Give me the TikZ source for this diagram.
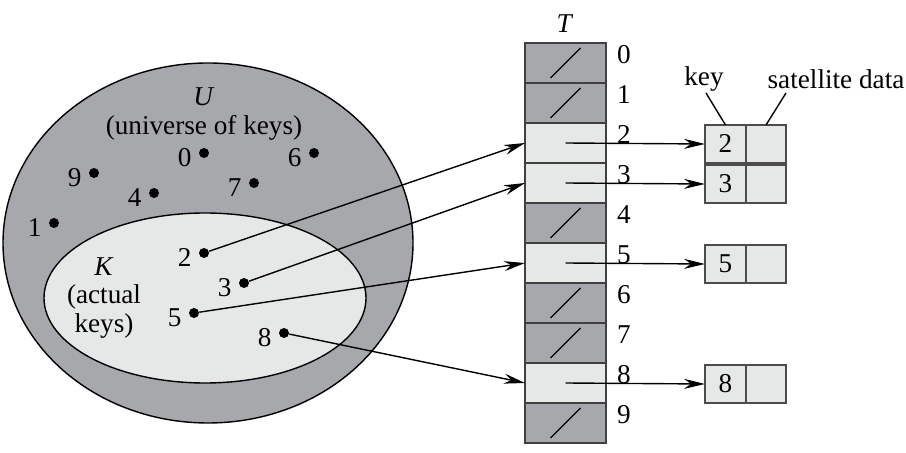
\documentclass[tikz,border=0pt]{standalone}
\usepackage{fontspec}
\setmainfont{Liberation Serif}
\usetikzlibrary{arrows.meta,positioning}
\definecolor{slotdark}{RGB}{167,168,172}
\definecolor{slotlight}{RGB}{230,231,231}

\begin{document}
\begin{tikzpicture}[x=0.5pt, y=-0.5pt,
  every node/.style={font=\fontsize{13.6}{14.2}\selectfont},
  key dot/.style={circle, fill=black, inner sep=0pt, minimum size=5pt},
  slot/.style={draw=black!75, line width=0.7pt, minimum width=40.5pt, minimum height=20pt, inner sep=0pt, outer sep=0pt},
  empty slot/.style={slot, fill=slotdark},
  full slot/.style={slot, fill=slotlight},
  elem/.style={draw=black!70, fill=slotlight, line width=0.7pt, minimum height=19pt, inner sep=0pt, outer sep=0pt},
  ptr/.style={-{Stealth[length=10.5pt, width=5pt, inset=3.5pt]}, line width=0.7pt}]
\useasboundingbox (0,0) rectangle (906,453);
% universe and actual keys
\draw[fill=slotdark, line width=0.7pt] (208,243) ellipse [x radius=102.5pt, y radius=90pt];
\draw[fill=slotlight, line width=0.7pt] (205,298) ellipse [x radius=80.5pt, y radius=42.5pt];
\node[align=center] (ulabel) at (204,114) {\textit{U}\\(universe of keys)};
\node[align=center] (klabel) at (104,298) {\textit{K}\\(actual\\keys)};
% keys
\node[key dot, label={[yshift=-2.5pt]left:0}] (d0) at (204,153) {};
\node[key dot, label={[yshift=-2.5pt]left:6}] (d6) at (314,153) {};
\node[key dot, label={[yshift=-2.5pt]left:9}] (d9) at (94,173) {};
\node[key dot, label={[yshift=-2.5pt]left:7}] (d7) at (254,183) {};
\node[key dot, label={[yshift=-2.5pt]left:4}] (d4) at (154,193) {};
\node[key dot, label={[yshift=-2.5pt]left:1}] (d1) at (54,223) {};
\node[key dot, label={[yshift=-2.5pt]left:2}] (d2) at (204,253) {};
\node[key dot, label={[yshift=-2.5pt]left:3}] (d3) at (244,283) {};
\node[key dot, label={[yshift=-2.5pt]left:5}] (d5) at (194,313) {};
\node[key dot, label={[yshift=-2.5pt]left:8}] (d8) at (284,333) {};
% table T
\node (tlabel) at (565,24) {\textit{T}};
\foreach \i/\s in {0/empty,1/empty,2/full,3/full,4/empty,5/full,6/empty,7/empty,8/full,9/empty}
  \node[\s\space slot] (t\i) at (565.5, 63+40*\i) {};
\foreach \i in {0,1,4,6,7,9}
  \draw[line width=0.7pt] ([shift={(-15,15)}]t\i.center) -- ([shift={(15,-15)}]t\i.center);
\foreach \i in {0,...,9}
  \node (n\i) at (624, 55+40*\i) {\i};
% elements with key and satellite data
\foreach \i in {2,3,5,8} {
  \node[elem, minimum width=20.5pt] (k\i) at (725.5, 64+40*\i) {\i};
  \node[elem, minimum width=20pt, right=0pt of k\i] (s\i) {};
  \draw[ptr] (t\i.center) -- (k\i.west);
}
\node (lkey) at (704,79) {key};
\node (lsat) at (836,79) {satellite data};
\coordinate (keyfoot) at (706,93);
\coordinate (satfoot) at (786,93);
\draw[line width=0.7pt] (keyfoot) -- (k2.north);
\draw[line width=0.7pt] (satfoot) -- (s2.north);
% hashing keys into T
\draw[ptr] (d2) -- (t2.west);
\draw[ptr] (d3) -- (t3.west);
\draw[ptr] (d5) -- (t5.west);
\draw[ptr] (d8) -- (t8.west);
\end{tikzpicture}
\end{document}
